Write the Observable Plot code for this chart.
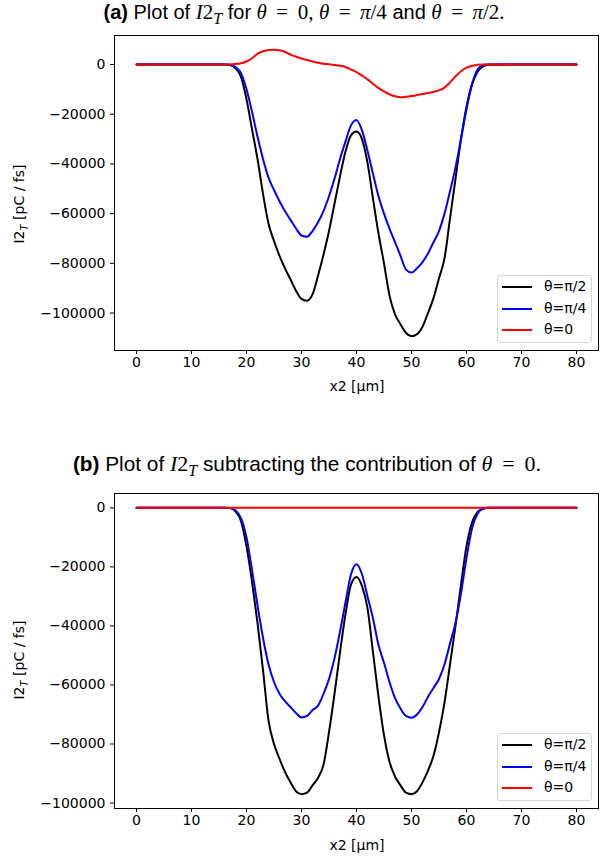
<!DOCTYPE html>
<html>
<head>
<meta charset="utf-8">
<script src="https://cdn.jsdelivr.net/npm/d3@7"></script>
<script src="https://cdn.jsdelivr.net/npm/@observablehq/plot@0.6"></script>
<style>
  html, body { margin: 0; padding: 0; background: white; }
  #fig { position: relative; width: 611px; height: 859px; overflow: hidden; font-family: "DejaVu Sans", sans-serif; color: #000; }
  .abs { position: absolute; white-space: nowrap; }
  .title { --mf: 22px; font-family: "Liberation Sans", Arial, sans-serif; font-size: 20px; line-height: 20px; transform: translateX(-50%); }
  .m { font-family: "Liberation Serif", "DejaVu Serif", serif; font-style: italic; font-size: var(--mf); line-height: 16px; }
  .r { font-family: "Liberation Serif", "DejaVu Serif", serif; font-size: var(--mf); line-height: 16px; }
  .eq { font-family: "Liberation Serif", "DejaVu Serif", serif; font-size: var(--mf); line-height: 16px; margin: 0 0.45em; }
  .lab { font-size: 14px; line-height: 14px; transform: translate(-50%, -50%); }
  .ylab { font-size: 14px; line-height: 14px; transform: translate(-50%, -50%) rotate(-90deg); }
  .legend { position: absolute; width: 95px; height: 68px; border: 1px solid #d4d4d4; border-radius: 3px; background: rgba(255,255,255,0.85); box-sizing: border-box; }
  .row { position: absolute; left: 0; height: 0; }
  .row .ln { position: absolute; left: 4px; width: 30px; height: 2px; top: -1px; }
  .row .tx { position: absolute; left: 46px; top: -9px; font-size: 14px; line-height: 17px; }
</style>
</head>
<body>
<div id="fig"></div>
<script>
// ---------- data ----------
// x positions (µm)
const X = [0, 8].concat(d3.range(16, 65)).concat([72, 80]);

// Panel (a): I2_T for θ = π/2, π/4, 0 (values for x = 16..64; zero outside)
const blackA = [0,-200,-1500,-5000,-14000,-26000,-38000,-52000,-64000,-71000,
  -77000,-82000,-86500,-91000,-94300,-95000,-92500,-85000,-76500,-67000,
  -56000,-45000,-35000,-28500,-27000,-30000,-39500,-54000,-68000,-80000,
  -93000,-100500,-104500,-108000,-109300,-108500,-105500,-100000,-94000,-86000,
  -78000,-62000,-46000,-30000,-17000,-8000,-3000,-800,-100];
const blueA = [0,-100,-1000,-3500,-10000,-19000,-29000,-38000,-45500,-50500,
  -55000,-59000,-62500,-66000,-68800,-69300,-67000,-63500,-59000,-53000,
  -46000,-38000,-31000,-24500,-22300,-26500,-34700,-44000,-53000,-60000,
  -66000,-71500,-77000,-82500,-83700,-82000,-79500,-76000,-71500,-67000,
  -60000,-51000,-41500,-30000,-18000,-8000,-2000,-300,0];
const redA = [0,0,150,500,1200,2500,4300,5300,5800,5900,
  5700,5000,4000,3100,2400,1800,1200,700,300,100,
  -200,-500,-1000,-2000,-3100,-4500,-6000,-7800,-9500,-10800,
  -12000,-12800,-13200,-13000,-12700,-12300,-11900,-11500,-11000,-10400,
  -9300,-7200,-4800,-2700,-1300,-500,-150,0,0];

// Panel (b): subtracting the θ = 0 contribution
const blackB = [0,-100,-1200,-4500,-13000,-25000,-39000,-55000,-72000,-80000,
  -85000,-89500,-93000,-96000,-97000,-96500,-94000,-91500,-87000,-76000,
  -63000,-49000,-36000,-26000,-23400,-26500,-34000,-49000,-64000,-77000,
  -86000,-91000,-94000,-96500,-97000,-96000,-93000,-89000,-84000,-76000,
  -66000,-53000,-40000,-26000,-13000,-5000,-1500,-300,0];
const blueB = [0,-100,-900,-3500,-10000,-21000,-33000,-44000,-53000,-59000,
  -63000,-65500,-67500,-69500,-71000,-70500,-68500,-67000,-63000,-58000,
  -51000,-42000,-32000,-22500,-19100,-22500,-30000,-37500,-46500,-52500,
  -59000,-64500,-68000,-70500,-71100,-70000,-67500,-64000,-61000,-58000,
  -53000,-46000,-39000,-29000,-17000,-7000,-2000,-300,0];
const redB = new Array(49).fill(0);

const xTicks = [0, 10, 20, 30, 40, 50, 60, 70, 80];
const yTicksA = [0, -20000, -40000, -60000, -80000, -100000];
const yTicksB = [0, -20000, -40000, -60000, -80000, -100000];

const seriesNames = ["θ=π/2", "θ=π/4", "θ=0"];
const seriesColors = ["#000000", "#0000ff", "#ff0000"];

// ---------- helpers ----------
function rows(vals) {
  const full = [0, 0].concat(vals).concat([0, 0]);
  return X.map((x, i) => ({x, y: full[i]}));
}
function paddedDomain(arrs) {
  const all = arrs.flat();
  const lo = d3.min(all), hi = d3.max(all);
  const p = (hi - lo) * 0.05;
  return [lo - p, hi + p];
}

function panel(series, yTicks) {
  const dom = paddedDomain(series);
  return Plot.plot({
    width: 611, height: 375,
    marginLeft: 114, marginRight: 13, marginTop: 10, marginBottom: 50,
    style: {fontFamily: "DejaVu Sans", fontSize: "14px", color: "#000", background: "transparent", overflow: "visible"},
    x: {domain: [-4, 84], ticks: xTicks, tickSize: 4, tickPadding: 3, label: null},
    y: {domain: dom, ticks: yTicks, tickSize: 4, tickPadding: 5, tickFormat: d3.format("d"), label: null},
    marks: [
      Plot.frame({stroke: "#000", strokeWidth: 1}),
      ...series.map((s, i) => Plot.line(rows(s), {x: "x", y: "y", stroke: seriesColors[i], strokeWidth: 2, curve: "monotone-x"}))
    ]
  });
}

// ---------- layout ----------
const fig = document.getElementById("fig");
function add(html, cls, style) {
  const d = document.createElement("div");
  d.className = cls;
  d.innerHTML = html;
  for (const [k, v] of Object.entries(style)) {
    if (k.startsWith("--")) d.style.setProperty(k, v); else d.style[k] = v;
  }
  fig.appendChild(d);
  return d;
}

const I2T = '<span class="m">I</span><span class="r">2</span><sub class="m" style="font-size:16px">T</sub>';
add('<b>(a)</b> Plot of ' + I2T + ' for <span class="m">θ</span><span class="eq">=</span><span class="r">0,</span> <span class="m">θ</span><span class="eq">=</span><span class="m">π</span><span class="r">/4</span> and <span class="m">θ</span><span class="eq">=</span><span class="m">π</span><span class="r">/2.</span>',
  "abs title", {left: "304px", top: "2px", "--mf": "21px"});
add('<b>(b)</b> Plot of ' + I2T + ' subtracting the contribution of <span class="m">θ</span><span class="eq">=</span><span class="r">0.</span>',
  "abs title", {left: "307px", top: "454px", fontSize: "20.8px"});

const svgA = panel([blackA, blueA, redA], yTicksA);
Object.assign(svgA.style, {position: "absolute", left: "0px", top: "25px"});
fig.appendChild(svgA);
const svgB = panel([blackB, blueB, redB], yTicksB);
Object.assign(svgB.style, {position: "absolute", left: "0px", top: "483px"});
fig.appendChild(svgB);

const ylabHTML = 'I2<sub style="font-size:10px;font-style:italic">T</sub> [pC / fs]';
add(ylabHTML, "abs ylab", {left: "22px", top: "204px"});
add(ylabHTML, "abs ylab", {left: "22px", top: "660px"});
add('x2 [μm]', "abs lab", {left: "357px", top: "386px"});
add('x2 [μm]', "abs lab", {left: "357px", top: "845px"});

function legend(top) {
  const lg = document.createElement("div");
  lg.className = "legend";
  Object.assign(lg.style, {left: "497px", top: top + "px"});
  seriesNames.forEach((name, i) => {
    const r = document.createElement("div");
    r.className = "row";
    r.style.top = (11 + i * 21.5) + "px";
    r.innerHTML = `<div class="ln" style="background:${seriesColors[i]}"></div><div class="tx">${name}</div>`;
    lg.appendChild(r);
  });
  fig.appendChild(lg);
}
legend(275);
legend(733);
</script>
</body>
</html>
